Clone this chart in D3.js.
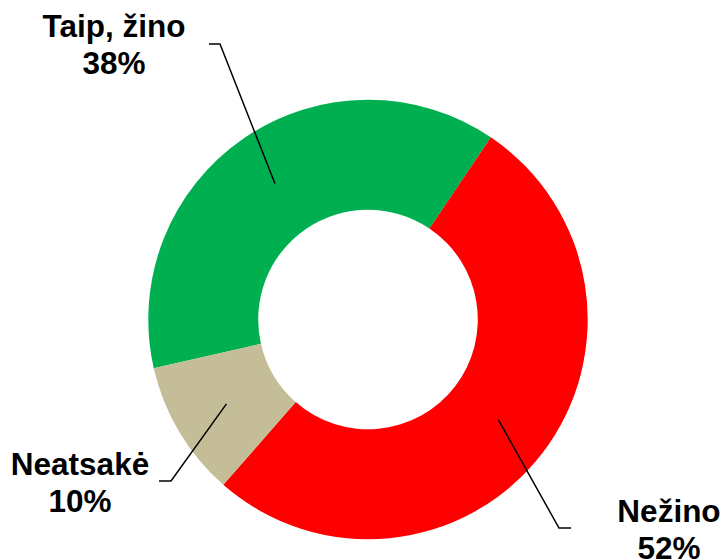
<!DOCTYPE html>
<html>
<head>
<meta charset="utf-8">
<script src="https://cdn.jsdelivr.net/npm/d3@7"></script>
<style>
  html, body { margin: 0; padding: 0; background: #fff; }
  svg { display: block; }
  text { font-family: "Liberation Sans", Arial, sans-serif; font-weight: bold; fill: #000; }
</style>
</head>
<body>
<svg id="chart" width="724" height="560"></svg>
<script>
// ---- data ----
const categories = ["Taip, žino", "Nežino", "Neatsakė"];
const values = [38, 52, 10];
const colors = ["#00B050", "#FF0000", "#C4BD97"];

// ---- layout (label anchors, not data) ----
const labelLayout = [
  { elbow: [220, 44], end: [209, 44], text: [114, 37] },
  { elbow: [559, 528], end: [571, 528], text: [669, 522] },
  { elbow: [171, 481], end: [159, 481], text: [80, 475] }
];

const svg = d3.select("#chart");
const cx = 368, cy = 319.5, rOuter = 219.7, rInner = 109.8;
const startDeg = -102.8;

const pie = d3.pie().sort(null).value(d => d)
  .startAngle(startDeg * Math.PI / 180)
  .endAngle(startDeg * Math.PI / 180 + 2 * Math.PI);
const arcs = pie(values);
const arc = d3.arc().innerRadius(rInner).outerRadius(rOuter);
const midArc = d3.arc().innerRadius((rInner + rOuter) / 2).outerRadius((rInner + rOuter) / 2);

const g = svg.append("g").attr("transform", `translate(${cx},${cy})`);
g.selectAll("path.slice").data(arcs).enter().append("path")
  .attr("class", "slice")
  .attr("d", arc)
  .attr("fill", (d, i) => colors[i]);

// leader lines and labels
arcs.forEach((d, i) => {
  const c = midArc.centroid(d);
  const L = labelLayout[i];
  svg.append("polyline")
    .attr("points", [[c[0] + cx, c[1] + cy], L.elbow, L.end].map(p => p.join(",")).join(" "))
    .attr("fill", "none")
    .attr("stroke", "#000")
    .attr("stroke-width", 1.5);
  const t = svg.append("text")
    .attr("text-anchor", "middle")
    .attr("font-size", 31.5)
    .attr("x", L.text[0]).attr("y", L.text[1]);
  t.append("tspan").attr("x", L.text[0]).text(categories[i]);
  t.append("tspan").attr("x", L.text[0]).attr("dy", 37).text(values[i] + "%");
});
</script>
</body>
</html>
